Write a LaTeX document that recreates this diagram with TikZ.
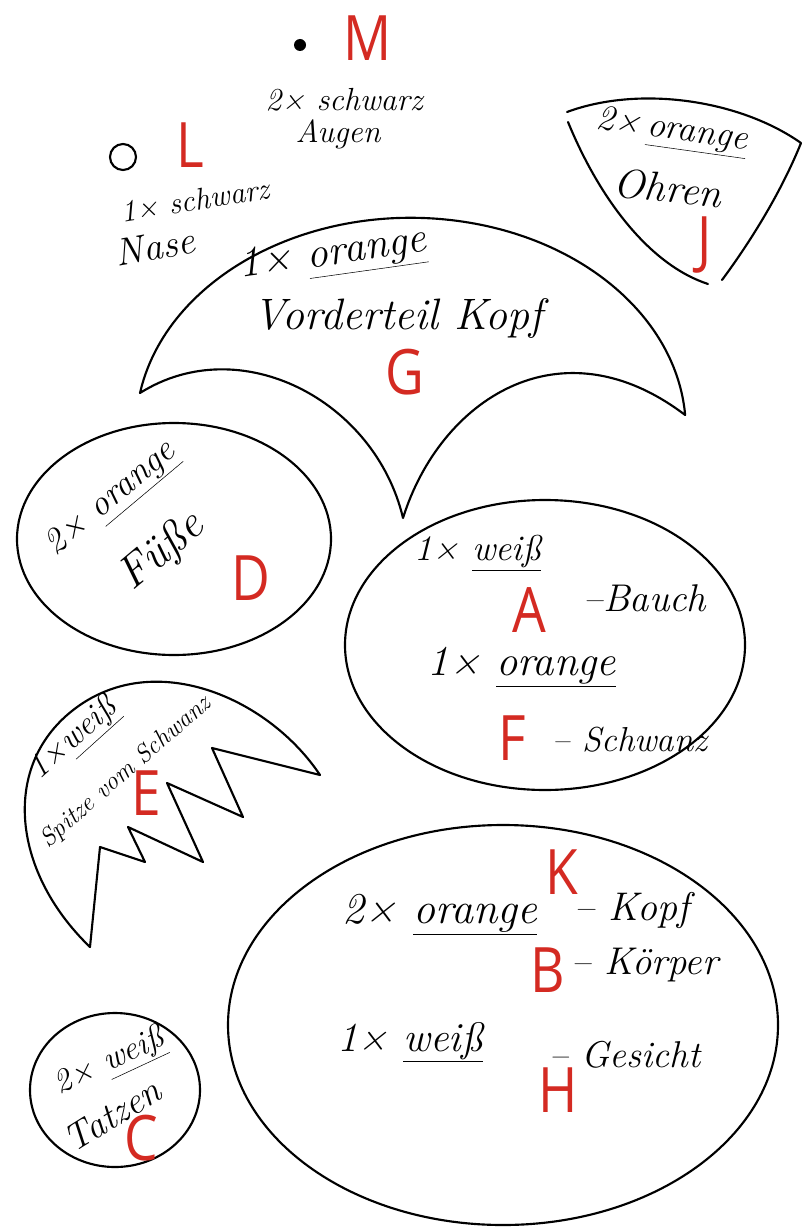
\documentclass[tikz,border=0pt]{standalone}
\usepackage{fontspec}
\newfontfamily\labfont[FakeStretch=0.85]{Open Sans}
\definecolor{labred}{HTML}{D42A22}
\newcommand\hf[1]{\fontsize{#1}{#1}\selectfont\itshape}
\begin{document}
\begin{tikzpicture}[x=0.75pt,y=-0.75pt,
  piece/.style={draw=black,line width=1.6pt,line join=round,line cap=round},
  lab/.style={text=labred,font=\labfont\fontsize{47}{47}\selectfont,inner sep=0pt},
  hand/.style={inner sep=0pt}]
\useasboundingbox (0,0) rectangle (812,1227);
\fill[white] (0,0) rectangle (812,1227);

% M - eyes
\fill (300,45) circle[radius=6];
\node[lab] (M) at (368,38) {M};
\node[hand,font=\hf{24}] (m1) at (344,100) {2× schwarz};
\node[hand,font=\hf{24}] (m2) at (338,134) {Augen};

% L - nose
\draw[piece] (123,157) circle[radius=13];
\node[lab] (L) at (190,145) {L};
\node[hand,font=\hf{23},rotate=9] (l1) at (195,200) {1× schwarz};
\node[hand,font=\hf{29},rotate=10] (l2) at (155,247) {Nase};

% J - ears
\draw[piece] (567,112) .. controls (640,85) and (740,100) .. (801,143)
  .. controls (780,195) and (748,245) .. (722,280);
\draw[piece] (568,122) .. controls (600,200) and (650,265) .. (708,284);
\node[hand,font=\hf{27},rotate=-8] (j1) at (672,132) {2×\,\underline{orange}};
\node[hand,font=\hf{31},rotate=-6] (j2) at (668,188) {Ohren};
\node[lab] (J) at (705,245) {J};

% G - front of head
\draw[piece] (140,393) arc[start angle=190,end angle=356,x radius=275,y radius=212]
  .. controls (560,320) and (440,400) .. (403,518)
  .. controls (375,400) and (240,330) .. (140,393) -- cycle;
\node[hand,font=\hf{32},rotate=8] (g1) at (333,256) {1× \underline{orange}};
\node[hand,font=\hf{33}] (g2) at (398,318) {Vorderteil Kopf};
\node[lab] (G) at (405,372) {G};

% D - feet
\draw[piece] (174,539) ellipse[x radius=157,y radius=116];
\node[hand,font=\hf{27},rotate=40] (d1) at (112,500) {2× \underline{orange}};
\node[hand,font=\hf{34},rotate=40] (d2) at (162,552) {Füße};
\node[lab] (D) at (251,578) {D};

% A/F - belly and tail
\draw[piece] (545,645) ellipse[x radius=200,y radius=145];
\node[hand,font=\hf{27}] (a1) at (478,553) {1× \underline{weiß}};
\node[hand,font=\hf{29}] (a2) at (645,598) {–Bauch};
\node[lab] (A) at (529,610) {A};
\node[hand,font=\hf{32}] (f1) at (522,667) {1× \underline{orange}};
\node[hand,font=\hf{26}] (f2) at (630,740) {– Schwanz};
\node[lab] (F) at (512,738) {F};

% E - tail tip
\draw[piece] (90,947) .. controls (10,870) and (0,760) .. (80,705)
  .. controls (160,650) and (270,700) .. (320,775)
  -- (212,748) -- (243,817) -- (167,783) -- (203,862)
  -- (128,827) -- (145,862) -- (100,847) -- cycle;
\node[hand,font=\hf{25},rotate=42] (e1) at (74,740) {1×\underline{weiß}};
\node[hand,font=\hf{19},rotate=41] (e2) at (126,772) {Spitze vom Schwanz};
\node[lab] (E) at (146,793) {E};

% K/B/H - head, body, face
\draw[piece] (503,1025) ellipse[x radius=275,y radius=200];
\node[hand,font=\hf{33}] (k1) at (440,915) {2× \underline{orange}};
\node[hand,font=\hf{30}] (k2) at (632,910) {– Kopf};
\node[lab] (K) at (562,872) {K};
\node[hand,font=\hf{29}] (b2) at (645,965) {– Körper};
\node[lab] (B) at (548,970) {B};
\node[hand,font=\hf{31}] (h1) at (410,1042) {1× \underline{weiß}};
\node[hand,font=\hf{28}] (h2) at (625,1055) {– Gesicht};
\node[lab] (H) at (558,1090) {H};

% C - paws
\draw[piece] (115,1090) ellipse[x radius=85,y radius=77];
\node[hand,font=\hf{25},rotate=25] (c1) at (110,1063) {2× \underline{weiß}};
\node[hand,font=\hf{28},rotate=32] (c2) at (112,1115) {Tatzen};
\node[lab] (C) at (141,1138) {C};
\end{tikzpicture}
\end{document}
